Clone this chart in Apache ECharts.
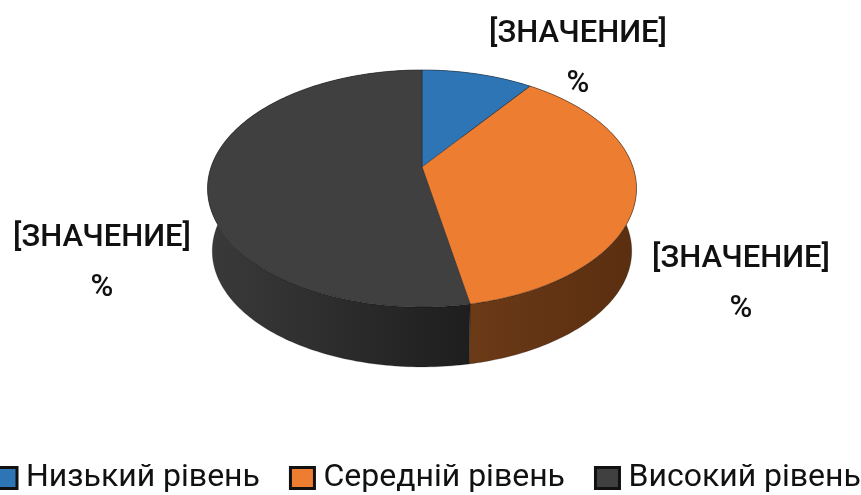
<!DOCTYPE html>
<html><head><meta charset="utf-8">
<style>html,body{margin:0;padding:0;background:#fff}#c{width:861px;height:495px;filter:blur(0.4px)}</style>
<script src="https://cdn.jsdelivr.net/npm/echarts@6/dist/echarts.min.js"></script>
</head><body><div id="c"></div>
<script>
var categories = ['Низький рівень', 'Середній рівень', 'Високий рівень'];
var values = [10, 37, 53];
var labelLines = ['[ЗНАЧЕНИЕ]', '%'];
var topColors = ['#2e75b6', '#ed7d31', '#404040'];

var FONT = 'Roboto,"Open Sans",sans-serif';
var view = {cx: 422, cy: 167, rx: 210.9, ry: 114.6, k: 0.1814, depth: 63, shrink: 0.978};
var wallColors = [
  ['#1d3f60', '#1d3f60'],
  ['#6b3a17', '#5a2e10'],
  ['#3a3a3a', '#1e1e1e']
];
var total = values.reduce(function (a, b) { return a + b; }, 0);

function rim(deg, lower) {
  var t = deg * Math.PI / 180, u = Math.sin(t), v = -Math.cos(t);
  var d = 1 - view.k * v;
  var x = view.rx * u / d, y = view.ry * v / d;
  if (lower) return [view.cx + x * view.shrink, view.cy + view.depth + y * view.shrink];
  return [view.cx + x, view.cy + y];
}
function arc(a0, a1, lower) {
  var pts = [], n = Math.max(2, Math.ceil(a1 - a0));
  for (var i = 0; i <= n; i++) pts.push(rim(a0 + (a1 - a0) * i / n, lower));
  return pts;
}
function renderSlice(params, api) {
  var idx = params.seriesIndex, before = 0;
  for (var i = 0; i < idx; i++) before += values[i];
  var a0 = before / total * 360, a1 = a0 + api.value(0) / total * 360;
  var upper = arc(a0, a1, false), lower = arc(a0, a1, true).reverse();
  return {
    type: 'group',
    children: [
      {
        type: 'polygon', z2: 1,
        shape: {points: upper.concat(lower)},
        style: {
          fill: new echarts.graphic.LinearGradient(0, 0, 1, 0, [
            {offset: 0, color: wallColors[idx][0]},
            {offset: 1, color: wallColors[idx][1]}
          ]),
          stroke: 'rgba(0,0,0,0.35)', lineWidth: 0.6
        }
      },
      {
        type: 'polygon', z2: 2,
        shape: {points: [[view.cx, view.cy]].concat(upper)},
        style: {fill: topColors[idx], stroke: 'rgba(20,20,20,0.55)', lineWidth: 0.7}
      }
    ]
  };
}
var labelAnchors = [[578, 59], [102, 263], [741, 284]];
function labelText(i) {
  var a = labelAnchors[i];
  return {
    type: 'text', x: a[0], y: a[1],
    style: {
      text: labelLines.join('\n'), fill: '#111', font: '500 31px ' + FONT,
      lineHeight: 50, align: 'center', verticalAlign: 'middle'
    }
  };
}
var chart = echarts.init(document.getElementById('c'), null, {renderer: 'canvas'});
chart.setOption({
  animation: false,
  backgroundColor: '#fff',
  legend: {
    data: categories, left: -13.5, top: 457, width: 920, itemGap: 29, itemWidth: 24, itemHeight: 21,
    icon: 'rect', selectedMode: false,
    itemStyle: {borderColor: '#111', borderWidth: 3},
    textStyle: {fontFamily: FONT, fontSize: 32, color: '#111', padding: [4, 0, 0, 4]}
  },
  xAxis: {show: false}, yAxis: {show: false},
  series: categories.map(function (name, i) {
    return {
      type: 'custom', name: name, coordinateSystem: 'none',
      itemStyle: {color: topColors[i]},
      renderItem: renderSlice, data: [[values[i]]], silent: true
    };
  }),
  graphic: [labelText(0), labelText(1), labelText(2)]
});
</script></body></html>
